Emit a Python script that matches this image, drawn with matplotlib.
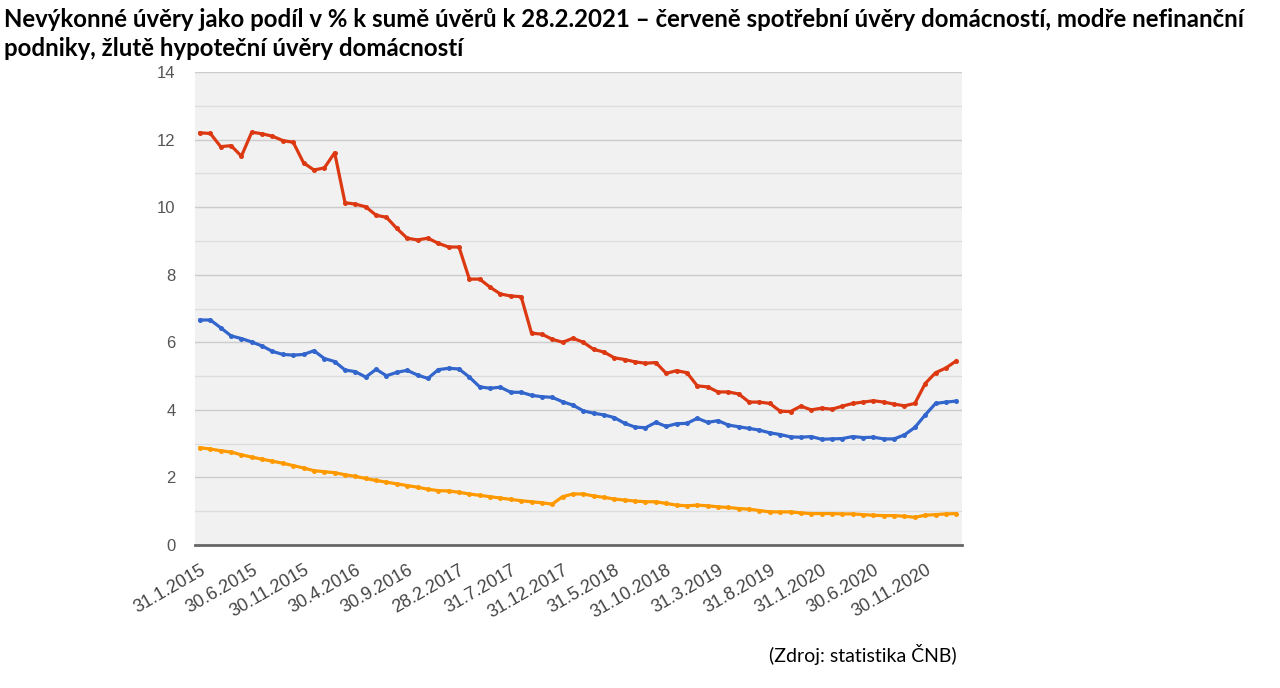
import matplotlib
matplotlib.use('Agg')
import matplotlib.pyplot as plt
from matplotlib.ticker import MultipleLocator

tick_labels = ["31.1.2015", "30.6.2015", "30.11.2015", "30.4.2016", "30.9.2016",
               "28.2.2017", "31.7.2017", "31.12.2017", "31.5.2018", "31.10.2018",
               "31.3.2019", "31.8.2019", "31.1.2020", "30.6.2020", "30.11.2020"]
tick_step = 5  # one tick label every 5 months

consumer = [12.20, 12.18, 11.79, 11.82, 11.51, 12.22, 12.17, 12.10, 11.97, 11.92,
            11.31, 11.10, 11.16, 11.61, 10.13, 10.09, 10.01, 9.76, 9.70, 9.37,
            9.08, 9.03, 9.08, 8.93, 8.82, 8.82, 7.87, 7.87,
            7.63, 7.43, 7.37, 7.35, 6.27, 6.24, 6.09, 6.00, 6.12, 6.00,
            5.79, 5.71, 5.54, 5.49, 5.42, 5.38, 5.40, 5.08, 5.16, 5.10,
            4.71, 4.68, 4.53, 4.53, 4.47,
            4.23, 4.23, 4.19, 3.96, 3.95, 4.11, 4.00, 4.05, 4.02, 4.11,
            4.19, 4.23, 4.27, 4.23, 4.17, 4.12, 4.19, 4.78, 5.10, 5.24, 5.45]

corporate = [6.66, 6.66, 6.43, 6.19, 6.11, 6.01, 5.89, 5.73, 5.64, 5.62,
             5.64, 5.75, 5.52, 5.43, 5.18, 5.13, 4.97, 5.20, 5.01, 5.11,
             5.17, 5.03, 4.93, 5.19, 5.23, 5.21, 4.97, 4.68,
             4.64, 4.67, 4.52, 4.52, 4.43, 4.39, 4.37, 4.24, 4.14, 3.97,
             3.90, 3.85, 3.77, 3.60, 3.49, 3.47, 3.63, 3.51, 3.59, 3.60,
             3.75, 3.63, 3.68, 3.55, 3.50,
             3.45, 3.40, 3.32, 3.27, 3.20, 3.19, 3.21, 3.13, 3.14, 3.15,
             3.21, 3.18, 3.19, 3.14, 3.14, 3.26, 3.48, 3.85, 4.19, 4.23, 4.26]

mortgage = [2.88, 2.84, 2.79, 2.75, 2.67, 2.60, 2.54, 2.48, 2.42, 2.35,
            2.28, 2.20, 2.17, 2.14, 2.08, 2.03, 1.97, 1.91, 1.86, 1.81,
            1.76, 1.71, 1.65, 1.61, 1.60, 1.56, 1.51, 1.47,
            1.43, 1.39, 1.35, 1.31, 1.28, 1.25, 1.21, 1.43, 1.51, 1.51,
            1.45, 1.41, 1.36, 1.33, 1.30, 1.28, 1.28, 1.23, 1.18, 1.16,
            1.18, 1.16, 1.13, 1.11, 1.08,
            1.06, 1.02, 0.98, 0.98, 0.98, 0.95, 0.93, 0.93, 0.93, 0.92,
            0.92, 0.90, 0.88, 0.87, 0.87, 0.85, 0.82, 0.88, 0.90, 0.92, 0.93]

title_lines = ["Nevýkonné úvěry jako podíl v % k sumě úvěrů k 28.2.2021 – červeně spotřební úvěry domácností, modře nefinanční",
               "podniky, žlutě hypoteční úvěry domácností"]
source_text = "(Zdroj: statistika ČNB)"

W, H, DPI = 1280, 688, 100
fig = plt.figure(figsize=(W / DPI, H / DPI), dpi=DPI)
fig.patch.set_facecolor('white')

ax = fig.add_axes([195 / W, 1 - 545 / H, (962 - 195) / W, (545 - 72) / H])
ax.set_facecolor('#f1f1f1')

x = list(range(len(consumer)))
style = dict(lw=2.3, marker='o', markersize=3.6, markeredgewidth=0, solid_joinstyle='round')
ax.plot(x, mortgage, color='#ff9900', **style, zorder=3)
ax.plot(x, corporate, color='#3366cc', **style, zorder=4)
ax.plot(x, consumer, color='#dc3912', **style, zorder=5)

ax.set_ylim(0, 14)
ax.set_xlim(-0.48, len(consumer) - 1 + 0.55)
ax.yaxis.set_major_locator(MultipleLocator(2))
ax.yaxis.set_minor_locator(MultipleLocator(1))
ax.grid(True, which='major', axis='y', color='#cccccc', lw=1.0, zorder=0)
ax.grid(True, which='minor', axis='y', color='#dddddd', lw=1.0, zorder=0)
ax.set_axisbelow(True)

for s in ['left', 'right', 'top']:
    ax.spines[s].set_visible(False)
ax.spines['bottom'].set_color('#666666')
ax.spines['bottom'].set_linewidth(2)
ax.spines['bottom'].set_zorder(6)

ax.set_xticks(list(range(0, len(consumer), tick_step))[:len(tick_labels)])
ax.set_xticklabels(tick_labels, rotation=30, ha='right', va='top',
                   rotation_mode='anchor', fontsize=13, color='#444444',
                   family='Liberation Sans')
ax.tick_params(axis='x', length=0, pad=12)
ax.tick_params(axis='y', which='both', length=0, pad=14, labelsize=12,
               labelcolor='#555555')
for lab in ax.get_yticklabels():
    lab.set_family('Liberation Sans')

# Title, fitted to the reference width
t1 = fig.text(4 / W, 1 - 27 / H, title_lines[0], fontsize=15, fontweight='bold',
              family='Lato', color='black', ha='left', va='baseline')
fig.canvas.draw()
r = fig.canvas.get_renderer()
w = t1.get_window_extent(r).width
fs = 15 * 1248 / w
t1.set_fontsize(fs)
fig.text(4 / W, 1 - 56 / H, title_lines[1], fontsize=fs, fontweight='bold',
         family='Lato', color='black', ha='left', va='baseline')

fig.text(957 / W, 1 - 662 / H, source_text, fontsize=14, family='Lato',
         color='black', ha='right', va='baseline')

fig.savefig('out.png', dpi=DPI, facecolor='white')
